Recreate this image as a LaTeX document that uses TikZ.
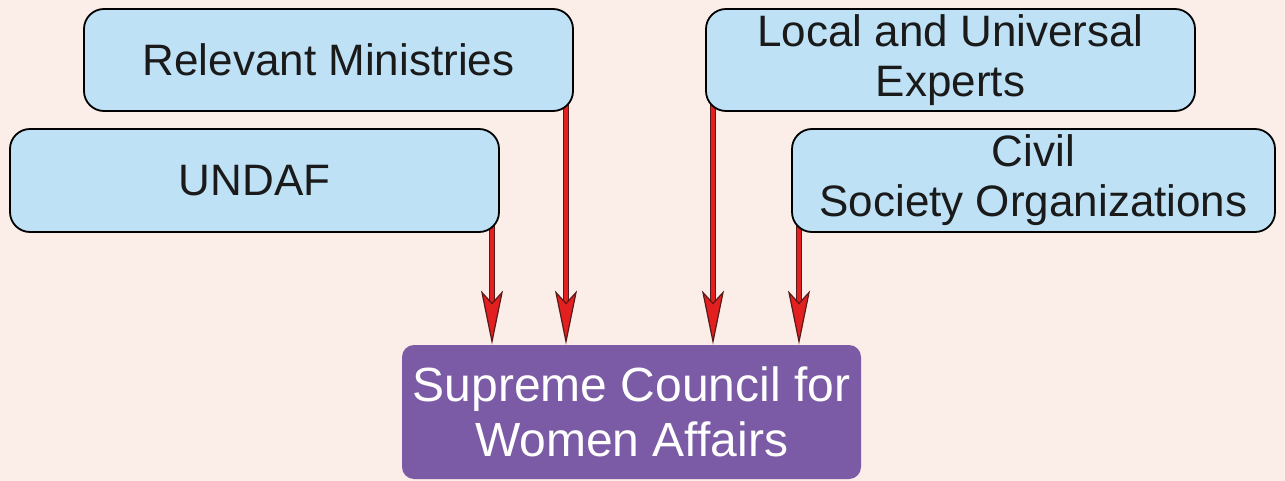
\documentclass[tikz,border=0pt]{standalone}
\usepackage{fontspec}
\setmainfont{Liberation Sans}
\usetikzlibrary{arrows.meta}
\definecolor{bgc}{HTML}{FBEDE7}
\definecolor{boxblue}{HTML}{BEE1F6}
\definecolor{boxpurple}{HTML}{7B5BA5}
\definecolor{arrred}{HTML}{E1201F}
\definecolor{arrdark}{HTML}{5A1818}
\definecolor{txt}{HTML}{1A1A1A}
\pgfdeclarelayer{bg}
\pgfdeclarelayer{arrowlayer}
\pgfsetlayers{bg,arrowlayer,main}
\tikzset{
  srcbox/.style={draw=black, line width=0.9pt, fill=boxblue, rounded corners=10pt,
    inner sep=0pt, align=center, text=txt, font=\fontsize{22}{25}\selectfont},
  tgtbox/.style={fill=boxpurple, rounded corners=6pt, inner sep=0pt, align=center,
    text=white, font=\fontsize{24}{27.5}\selectfont},
  shaftline/.style={line width=3pt, arrdark, shorten >=16pt},
  redarrow/.style={line width=2pt, arrred,
    -{Stealth[length=27pt, width=11pt, inset=6pt, line width=0.6pt, color=arrdark, fill=arrred]}},
}
\begin{document}
\begin{tikzpicture}[x=0.5pt, y=-0.5pt]
\begin{pgfonlayer}{bg}
\fill[bgc] (0,0) rectangle (1285,481);
\end{pgfonlayer}
\useasboundingbox (0,0) rectangle (1285,481);
\node[srcbox, minimum width=244.5pt, minimum height=51pt] (rm) at (328.5,60) {Relevant Ministries};
\node[srcbox, minimum width=244.5pt, minimum height=51.5pt] (un) at (254.5,180.5) {UNDAF};
\node[srcbox, minimum width=244.5pt, minimum height=51pt] (lu) at (950.5,60) {Local and Universal\\Experts};
\node[srcbox, minimum width=241.5pt, minimum height=51.5pt] (cs) at (1033.5,180.5) {Civil\\Society Organizations};
\node[tgtbox, minimum width=229.5pt, minimum height=67pt] (sc) at (631.5,412) {Supreme Council for\\Women Affairs};
\begin{pgfonlayer}{arrowlayer}
\foreach \src/\xx in {un/492, rm/566, lu/713, cs/799}{
  \draw[shaftline] ([yshift=4pt]\src.south -| \xx,0) -- (sc.north -| \xx,0);
  \draw[redarrow] ([yshift=4pt]\src.south -| \xx,0) -- (sc.north -| \xx,0);
}
\end{pgfonlayer}
\end{tikzpicture}
\end{document}
